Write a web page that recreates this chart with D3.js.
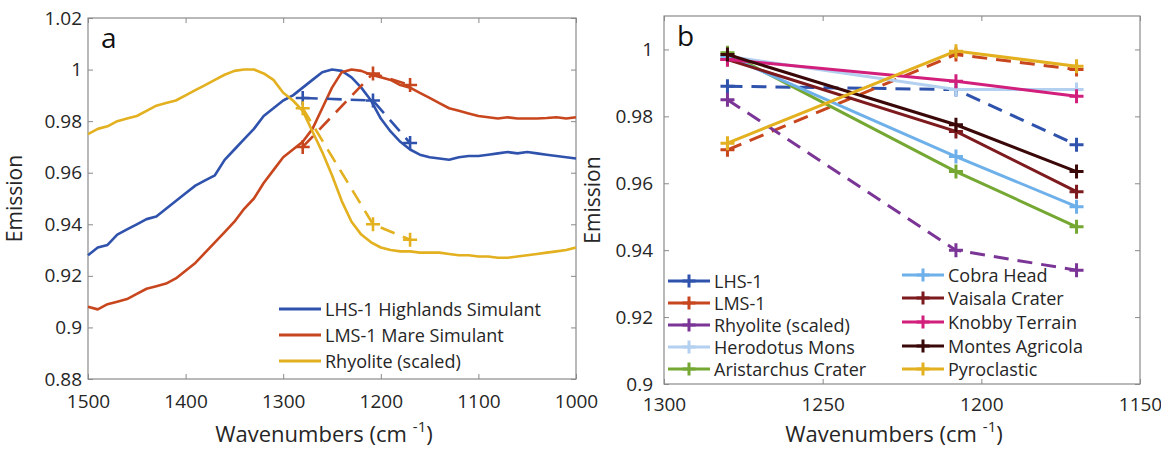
<!DOCTYPE html>
<html>
<head>
<meta charset="utf-8">
<script src="https://cdn.jsdelivr.net/npm/d3@7"></script>
<style>
    body { margin: 0; background: #fff; }
    svg { font-family: "Open Sans", sans-serif; }
</style>
</head>
<body>
<svg id="chart" width="1161" height="451"></svg>
<script>
"use strict"

// panel a: lab spectra, read every 10 cm-1
const waveA = [1500, 1490, 1480, 1470, 1460, 1450, 1440, 1430, 1420, 1410,
    1400, 1390, 1380, 1370, 1360, 1350, 1340, 1330, 1320, 1310,
    1300, 1290, 1280, 1270, 1260, 1250, 1240, 1230, 1220, 1210,
    1200, 1190, 1180, 1170, 1160, 1150, 1140, 1130, 1120, 1110,
    1100, 1090, 1080, 1070, 1060, 1050, 1040, 1030, 1020, 1010, 1000];

const lhsSpectrum = [0.928, 0.931, 0.932, 0.936, 0.938, 0.940, 0.942, 0.943, 0.946, 0.949,
    0.952, 0.955, 0.957, 0.959, 0.965, 0.969, 0.973, 0.977, 0.982, 0.985,
    0.988, 0.990, 0.993, 0.996, 0.999, 1.000, 0.9995, 0.997, 0.993, 0.988,
    0.981, 0.976, 0.972, 0.969, 0.967, 0.966, 0.9655, 0.965, 0.966, 0.9665,
    0.9665, 0.967, 0.9675, 0.968, 0.9675, 0.968, 0.9675, 0.967, 0.9665, 0.966, 0.9655];

const lmsSpectrum = [0.908, 0.907, 0.909, 0.910, 0.911, 0.913, 0.915, 0.916, 0.917, 0.919,
    0.922, 0.925, 0.929, 0.933, 0.937, 0.941, 0.946, 0.950, 0.956, 0.961,
    0.966, 0.969, 0.972, 0.977, 0.985, 0.993, 0.999, 1.000, 0.9995, 0.998,
    0.997, 0.996, 0.994, 0.993, 0.991, 0.989, 0.987, 0.985, 0.984, 0.983,
    0.982, 0.9815, 0.981, 0.9815, 0.981, 0.981, 0.981, 0.9812, 0.9815, 0.981, 0.9815];

const rhyoliteSpectrum = [0.975, 0.977, 0.978, 0.980, 0.981, 0.982, 0.984, 0.986, 0.987, 0.988,
    0.990, 0.992, 0.994, 0.996, 0.998, 0.9995, 1.000, 1.000, 0.9985, 0.996,
    0.991, 0.988, 0.984, 0.976, 0.968, 0.959, 0.949, 0.941, 0.936, 0.933,
    0.931, 0.930, 0.9295, 0.9295, 0.929, 0.929, 0.929, 0.9285, 0.928, 0.928,
    0.9275, 0.9275, 0.927, 0.927, 0.9275, 0.928, 0.9285, 0.929, 0.9295, 0.930, 0.931];

// band positions (both panels)
const bandWave = [1280, 1208, 1170];

// band values
const lhsBands = [0.989, 0.988, 0.9715];
const lmsBands = [0.970, 0.9985, 0.994];
const rhyoliteBands = [0.985, 0.940, 0.934];
const herodotusBands = [0.998, 0.988, 0.988];
const aristarchusBands = [0.999, 0.9635, 0.947];
const cobraBands = [0.998, 0.968, 0.953];
const vaisalaBands = [0.997, 0.9755, 0.9575];
const knobbyBands = [0.997, 0.9905, 0.986];
const montesBands = [0.9985, 0.9775, 0.9635];
const pyroclasticBands = [0.972, 0.9995, 0.995];

// ticks
const aXTicks = [1500, 1400, 1300, 1200, 1100, 1000];
const aYTicks = [0.88, 0.9, 0.92, 0.94, 0.96, 0.98, 1, 1.02];
const bXTicks = [1300, 1250, 1200, 1150];
const bYTicks = [0.9, 0.92, 0.94, 0.96, 0.98, 1];

const colors = {
    lhs: "#2f52ad",
    lms: "#c8461e",
    rhyA: "#e3b01f",
    rhyB: "#7b3596",
    herodotus: "#b3d0f0",
    aristarchus: "#74a832",
    cobra: "#6eb0e9",
    vaisala: "#7d1a1e",
    knobby: "#d21f7c",
    montes: "#3a0808",
    pyroclastic: "#e3b01f"
};

const svg = d3.select("#chart");

const xA = d3.scaleLinear().domain([1500, 1000]).range([88, 576]);
const yA = d3.scaleLinear().domain([0.88, 1.02]).range([379, 18]);
const xB = d3.scaleLinear().domain([1300, 1150]).range([664, 1140]);
const yB = d3.scaleLinear().domain([0.9, 1.01]).range([384, 16]);

const numFmt = d => String(+d.toFixed(2));
const plusPath = s => `M${-s},0H${s}M0,${-s}V${s}`;

function drawAxes(x, y, xTicks, yTicks, xPad, yPad) {
    let g = svg.append("g");
    let [x0, x1] = x.range();
    let [y0, y1] = y.range();

    g.append("g").attr("transform", `translate(0,${y0})`)
        .call(d3.axisBottom(x).tickValues(xTicks).tickSize(-5).tickSizeOuter(0).tickPadding(xPad).tickFormat(d3.format("d")));
    g.append("g").attr("transform", `translate(0,${y1})`)
        .call(d3.axisTop(x).tickValues(xTicks).tickSize(-5).tickSizeOuter(0).tickFormat(""));
    g.append("g").attr("transform", `translate(${x0},0)`)
        .call(d3.axisLeft(y).tickValues(yTicks).tickSize(-5).tickSizeOuter(0).tickPadding(yPad).tickFormat(numFmt));
    g.append("g").attr("transform", `translate(${x1},0)`)
        .call(d3.axisRight(y).tickValues(yTicks).tickSize(-5).tickSizeOuter(0).tickFormat(""));

    g.selectAll(".domain").remove();
    g.selectAll(".tick line").attr("stroke", "#8a8a8a");
    g.selectAll(".tick text")
        .attr("fill", "#262626")
        .style("font-size", "19px")
        .style("font-family", "Open Sans, sans-serif");

    g.append("rect")
        .attr("x", x0).attr("y", y1)
        .attr("width", x1 - x0).attr("height", y0 - y1)
        .attr("fill", "none")
        .attr("stroke", "#8a8a8a")
        .attr("stroke-width", 1.2);
}

function drawTitles(x, y, cx, letter) {
    let [x0, x1] = x.range();
    let [y0, y1] = y.range();

    let xt = svg.append("text")
        .attr("x", (x0 + x1) / 2 - 8)
        .attr("y", 442)
        .attr("text-anchor", "middle")
        .attr("fill", "#262626")
        .style("font-size", "22px")
        .text("Wavenumbers (cm");
    xt.append("tspan").attr("dx", 6).attr("dy", -10).style("font-size", "15px").text("-1");
    xt.append("tspan").attr("dy", 10).text(")");

    svg.append("text")
        .attr("transform", `translate(${cx},${(y0 + y1) / 2}) rotate(-90)`)
        .attr("text-anchor", "middle")
        .attr("fill", "#262626")
        .style("font-size", "21px")
        .text("Emission");

    svg.append("text")
        .attr("x", x0 + 13)
        .attr("y", y1 + 30)
        .attr("fill", "#111")
        .style("font-size", "28px")
        .text(letter);
}

function drawSpectrum(values, color) {
    let line = d3.line().x((d, i) => xA(waveA[i])).y(d => yA(d));
    svg.append("path")
        .datum(values)
        .attr("d", line)
        .attr("fill", "none")
        .attr("stroke", color)
        .attr("stroke-width", 2.6)
        .attr("stroke-linejoin", "round");
}

function drawBands(x, y, values, color, dashed, width, size) {
    let line = d3.line().x((d, i) => x(bandWave[i])).y(d => y(d));
    svg.append("path")
        .datum(values)
        .attr("d", line)
        .attr("fill", "none")
        .attr("stroke", color)
        .attr("stroke-width", width)
        .attr("stroke-dasharray", dashed ? "15,9" : null);

    svg.append("g").selectAll("path")
        .data(values)
        .enter().append("path")
        .attr("d", plusPath(size))
        .attr("transform", (d, i) => `translate(${x(bandWave[i])},${y(d)})`)
        .attr("stroke", color)
        .attr("stroke-width", width)
        .attr("fill", "none");
}

function legendRow(xl, yc, color, label, marker) {
    svg.append("line")
        .attr("x1", xl).attr("x2", xl + 42)
        .attr("y1", yc).attr("y2", yc)
        .attr("stroke", color)
        .attr("stroke-width", 3);
    if (marker) {
        svg.append("path")
            .attr("d", plusPath(6.5))
            .attr("transform", `translate(${xl + 21},${yc})`)
            .attr("stroke", color)
            .attr("stroke-width", 3);
    }
    svg.append("text")
        .attr("x", xl + 46)
        .attr("y", yc + 6.5)
        .attr("fill", "#262626")
        .style("font-size", "18px")
        .text(label);
}

/* panel a */
drawAxes(xA, yA, aXTicks, aYTicks, 16, 6);
drawTitles(xA, yA, 22, "a");
drawSpectrum(lhsSpectrum, colors.lhs);
drawSpectrum(lmsSpectrum, colors.lms);
drawSpectrum(rhyoliteSpectrum, colors.rhyA);
drawBands(xA, yA, lhsBands, colors.lhs, true, 2.6, 7);
drawBands(xA, yA, lmsBands, colors.lms, true, 2.6, 7);
drawBands(xA, yA, rhyoliteBands, colors.rhyA, true, 2.6, 7);

legendRow(279, 309, colors.lhs, "LHS-1 Highlands Simulant", false);
legendRow(279, 335, colors.lms, "LMS-1 Mare Simulant", false);
legendRow(279, 361, colors.rhyA, "Rhyolite (scaled)", false);

/* panel b */
drawAxes(xB, yB, bXTicks, bYTicks, 14, 11);
drawTitles(xB, yB, 600, "b");

const bSeries = [
    [lhsBands, colors.lhs, true, "LHS-1"],
    [lmsBands, colors.lms, true, "LMS-1"],
    [rhyoliteBands, colors.rhyB, true, "Rhyolite (scaled)"],
    [herodotusBands, colors.herodotus, false, "Herodotus Mons"],
    [aristarchusBands, colors.aristarchus, false, "Aristarchus Crater"],
    [cobraBands, colors.cobra, false, "Cobra Head"],
    [vaisalaBands, colors.vaisala, false, "Vaisala Crater"],
    [knobbyBands, colors.knobby, false, "Knobby Terrain"],
    [montesBands, colors.montes, false, "Montes Agricola"],
    [pyroclasticBands, colors.pyroclastic, false, "Pyroclastic"]
];

bSeries.forEach(s => drawBands(xB, yB, s[0], s[1], s[2], 3, 7));

const legendRowsB1 = [281, 303, 325, 347, 369];
const legendRowsB2 = [275, 298, 322, 346, 369];
bSeries.forEach((s, i) => {
    if (i < 5) {
        legendRow(668, legendRowsB1[i], s[1], s[3], true);
    } else {
        legendRow(902, legendRowsB2[i - 5], s[1], s[3], true);
    }
});
</script>
</body>
</html>
